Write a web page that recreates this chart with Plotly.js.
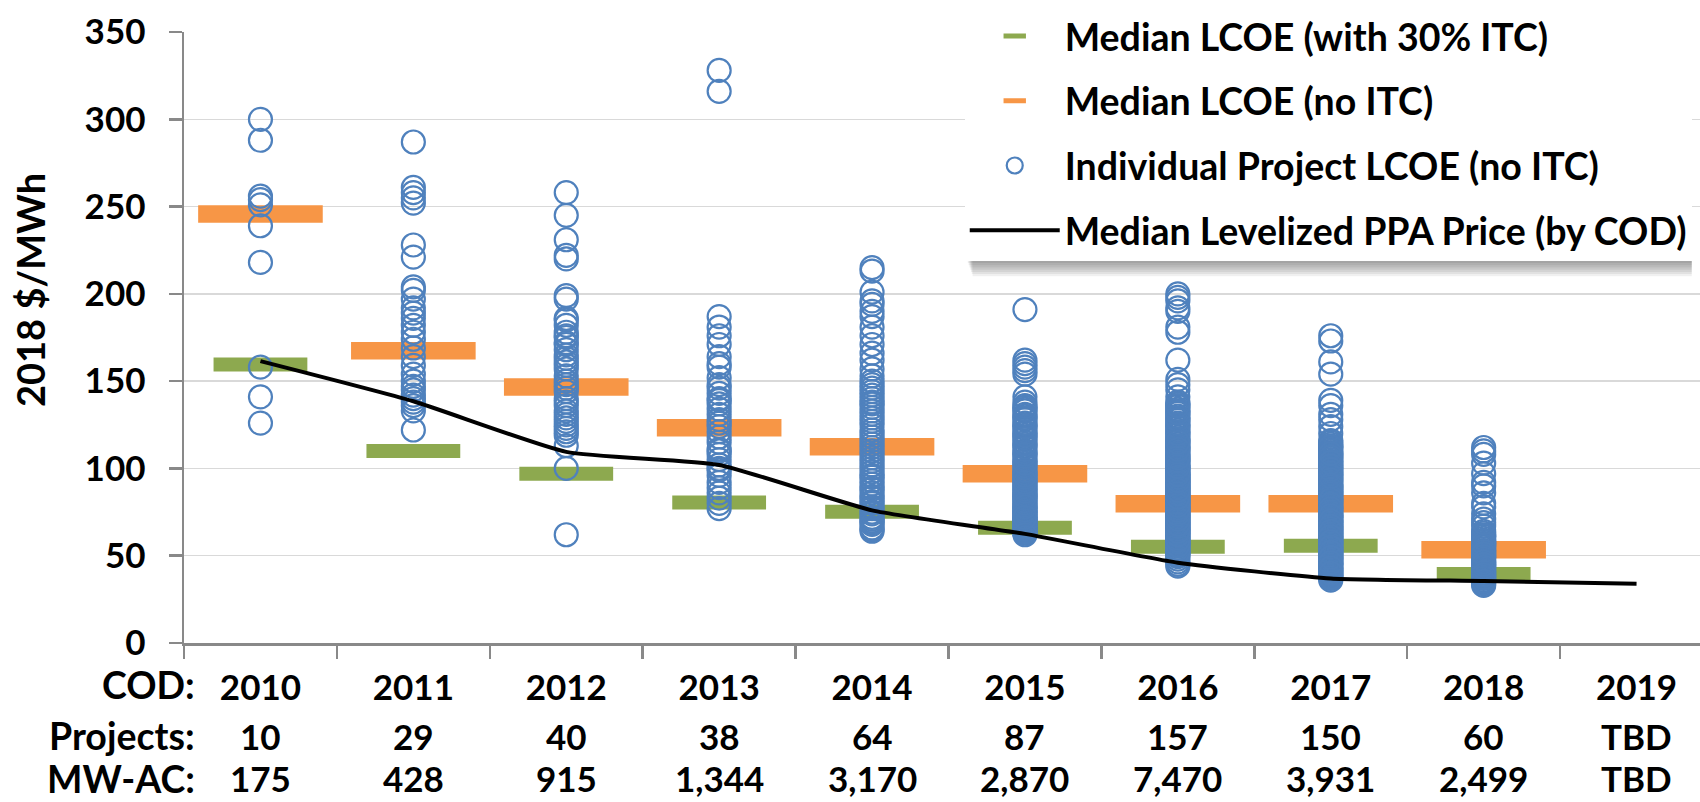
<!DOCTYPE html>
<html><head><meta charset="utf-8">
<script src="https://cdn.plot.ly/plotly-3.0.1.min.js"></script>
<style>html,body{margin:0;padding:0;background:#fff;}#chart{width:1700px;height:802px;}</style>
</head><body><div id="chart"></div>
<script>
const years = ['2010','2011','2012','2013','2014','2015','2016','2017','2018','2019'];
const projects = ['10','29','40','38','64','87','157','150','60','TBD'];
const mwac = ['175','428','915','1,344','3,170','2,870','7,470','3,931','2,499','TBD'];
const rowLabels = ['COD:','Projects:','MW-AC:'];

const medianItc   = [159.5, 110, 97, 80.5, 75.2, 66, 55.1, 55.7, 39.5];
const medianNoItc = [245.7, 167.4, 146.7, 123.3, 112.4, 96.9, 79.7, 79.7, 53.4];
const ppaPrice    = [161.5, 138.5, 109.5, 102, 76, 62.5, 46, 37, 35.5, 34];

const lcoe2010 = [300, 288, 256, 254, 251, 239, 218, 158, 141, 126];
const lcoe2011 = [287, 261, 258, 255, 252, 228, 221, 204, 202, 197, 192, 189, 186, 182, 178, 174, 169, 164, 159, 154, 150, 147, 145, 142, 140, 138, 136, 133, 122];
const lcoe2012 = [258, 245, 231, 222, 220, 199, 197, 186, 185, 182, 178, 176, 175, 172, 171, 168, 165, 163, 161, 159, 157, 153, 150, 148, 146, 144, 140, 138, 136, 133, 131, 129, 127, 125, 123, 121, 119, 113, 100, 62];
const lcoe2013 = [328, 316, 187, 181, 176, 171, 164, 160, 158, 152, 148, 146, 143, 140, 139, 137, 134, 131, 128, 126, 124, 121, 118, 115, 111, 110, 108, 105, 102, 100, 99, 96, 92, 89, 86, 83, 80, 77];
const lcoe2014 = [215, 213, 201, 196, 194, 190, 187, 181, 176, 171, 166, 162, 157, 153, 150, 148, 146, 144, 142, 140, 138, 137, 135, 133, 131, 129, 127, 125, 122, 120, 118, 116, 114, 112, 110, 108, 106, 104, 102, 100, 98, 96, 95, 93, 91, 89, 88, 86, 84, 83, 81, 80, 78, 77, 75, 74, 72, 71, 70, 69, 68, 66, 65, 64];
const lcoe2015 = [191, 162, 160, 158, 156, 154, 141, 138, 136, 135, 133, 131, 130, 128, 126, 125, 123, 121, 120, 118, 117, 115, 113, 112, 110, 109, 107, 105, 104, 102, 101, 99, 98, 97, 95, 94, 93, 91, 90, 89, 88, 87, 86, 85, 84, 83, 82, 81, 80, 79, 78, 77, 76, 75, 75, 74, 73, 72, 71, 71, 70, 69, 69, 68, 67, 67, 66, 66, 65, 65, 64, 64, 63, 63, 62, 78, 84, 92, 96, 103, 108, 114, 119, 124, 129, 134, 72];
const lcoe2016 = [200, 198, 196, 192, 190, 181, 178, 162, 151, 148, 145, 141, 138,
  137, 135.5, 134, 133, 131.5, 130, 129, 127.5, 126, 125, 123.5, 122, 121, 119.5, 118, 117, 115.5, 114, 113, 111.5,
  110, 109, 108, 106.5, 105, 104, 103, 101.5, 100, 99, 98, 97, 95.5, 94.5, 93.5, 92, 91, 90, 89, 88,
  87, 86, 85, 84, 83, 82, 81, 80, 79.5, 78.5, 77.5, 76.5, 75.5, 74.5, 73.5, 72.5, 71.5, 70.5, 69.5, 68.5,
  67.5, 66.5, 65.5, 64.5, 63.5, 62.5, 61.5, 60.5, 59.5, 58.5, 57.5, 56.5, 55.5, 54.5, 53.5, 52.5, 51.5, 50.5, 49.5, 48,
  46.5, 45, 44, 99.5, 96, 92.5, 88.5, 84.5, 81.5, 78, 75, 72, 69, 66, 63, 60, 57, 54, 51, 82.5,
  86.5, 90.5, 94, 97.5, 102, 107, 112, 116, 120, 124, 128, 132, 136, 70, 65, 58, 52, 62, 67, 73,
  77, 80.5, 85.5, 89.5, 91.5, 95, 100.5, 104.5, 56, 59, 64, 68, 71, 74, 76, 79, 83.5, 87.5, 93, 96.5,
  101, 106, 111, 115];
const lcoe2017 = [176, 173, 161, 154, 139, 136, 131, 128, 124, 120, 116,
  115, 114, 113, 112, 111, 110, 109, 108, 107, 106, 105, 104, 103, 102, 101, 100, 99, 98, 97, 96,
  95, 94, 93, 92, 91, 90, 89, 88, 87, 86, 85, 84, 83, 82, 81, 80, 79, 78, 77, 76,
  75, 74, 73, 72, 71, 70, 69, 68, 67, 66, 65, 64, 63, 62, 61, 60, 59, 58, 57, 56,
  55, 54, 53, 52, 51, 50, 49, 48, 47, 46, 45, 44, 43, 42, 41, 40, 39, 38, 37, 36,
  112.5, 106.5, 101.5, 97.5, 93.5, 89.5, 85.5, 81.5, 78.5, 74.5, 71.5, 68.5, 65.5, 62.5, 59.5, 56.5, 53.5, 50.5, 47.5, 44.5,
  41.5, 38.5, 90.5, 86.5, 83.5, 79.5, 76.5, 72.5, 69.5, 66.5, 63.5, 60.5, 57.5, 54.5, 51.5, 48.5, 45.5, 42.5, 39.5, 37.5,
  88, 82, 77, 73, 70, 67, 64, 61, 58, 55, 52, 49, 46, 43, 40, 95.5, 99.5, 103.5, 108.5];
const lcoe2018 = [112, 110, 108, 103, 97, 92, 90, 86, 80, 78, 74, 71, 67, 64,
  63, 62, 61, 60, 59, 58, 57, 56, 55, 54, 53, 52, 51, 50, 49, 48, 47, 46, 45, 44,
  43, 42, 41, 40, 39, 38, 37, 36, 35, 34, 33, 61.5, 58.5, 55.5, 52.5, 49.5, 46.5, 43.5, 40.5, 37.5,
  35.5, 57, 51, 45, 39, 69];

const lcoeByYear = [lcoe2010, lcoe2011, lcoe2012, lcoe2013, lcoe2014, lcoe2015, lcoe2016, lcoe2017, lcoe2018];
const ptsX = [], ptsY = [];
lcoeByYear.forEach((arr, i) => arr.forEach(v => { ptsX.push(years[i]); ptsY.push(v); }));

const FONT = 'Lato, "Open Sans", sans-serif';
const GREEN = '#8DA94F', ORANGE = '#F79646', BLUE = '#4F81BD', AXIS = '#898989';
const NUM = 35, TXT = 37.5;
const numFont = {family: FONT, size: NUM, weight: 700, color: '#000'};
const txtFont = {family: FONT, size: TXT, weight: 700, color: '#000'};

const traces = [
  {x: years.slice(0, 9), y: medianItc, type: 'scatter', mode: 'markers', name: 'Median LCOE (with 30% ITC)', legendgroup: 'a',
   marker: {symbol: 'line-ew', size: 67, color: GREEN, line: {width: 14, color: GREEN}}, hoverinfo: 'skip'},
  {x: years.slice(0, 9), y: medianNoItc, type: 'scatter', mode: 'markers', name: 'Median LCOE (no ITC)', legendgroup: 'b',
   marker: {symbol: 'line-ew', size: 89, color: ORANGE, line: {width: 17.5, color: ORANGE}}, hoverinfo: 'skip'},
  {x: ptsX, y: ptsY, type: 'scatter', mode: 'markers', name: 'Individual Project LCOE (no ITC)', legendgroup: 'c',
   marker: {symbol: 'circle-open', size: 23, color: BLUE, line: {width: 2.2, color: BLUE}}, hoverinfo: 'skip'},
  {x: years, y: ppaPrice, type: 'scatter', mode: 'lines', name: 'Median Levelized PPA Price (by COD)', legendgroup: 'd',
   line: {color: '#000', width: 4, shape: 'spline', smoothing: 0.5}, hoverinfo: 'skip'}
];

const annotations = [];
const rowY = [-0.0687, -0.1522, -0.2215];
rowLabels.forEach((t, r) => annotations.push({xref: 'paper', yref: 'paper', x: 0.0086, y: rowY[r], xanchor: 'right', yanchor: 'middle',
  text: t, showarrow: false, font: txtFont}));
years.forEach((yr, i) => {
  annotations.push({xref: 'x', yref: 'paper', x: i, y: rowY[1], xanchor: 'center', yanchor: 'middle', text: projects[i], showarrow: false, font: numFont});
  annotations.push({xref: 'x', yref: 'paper', x: i, y: rowY[2], xanchor: 'center', yanchor: 'middle', text: mwac[i], showarrow: false, font: numFont});
});
annotations.push({xref: 'paper', yref: 'paper', x: -0.1016, y: 0.5777, xanchor: 'center', yanchor: 'middle', textangle: -90,
  text: '2018 $/MWh', showarrow: false, font: {family: FONT, size: 38, weight: 700, color: '#000'}});

const layout = {
  width: 1700, height: 802,
  margin: {l: 184, r: 0, t: 32, b: 159, pad: 0},
  paper_bgcolor: '#fff', plot_bgcolor: '#fff',
  showlegend: true,
  font: {family: FONT, size: NUM, color: '#000'},
  xaxis: {type: 'category', categoryorder: 'array', categoryarray: years, range: [-0.5, 9.415],
    tickson: 'boundaries', ticks: 'outside', ticklen: 13, tickwidth: 2.5, tickcolor: AXIS,
    showline: true, linecolor: AXIS, linewidth: 2.5, showgrid: false, zeroline: false,
    tickfont: numFont, ticklabelstandoff: 12, fixedrange: true},
  yaxis: {range: [0, 350], tick0: 0, dtick: 50, ticks: 'outside', ticklen: 13, tickwidth: 2.5, tickcolor: AXIS,
    showline: true, linecolor: AXIS, linewidth: 2.5, showgrid: true, gridcolor: '#D9D9D9', gridwidth: 1.5, zeroline: false,
    tickfont: numFont, ticklabelstandoff: 16, fixedrange: true},
  legend: {x: 0.515, xanchor: 'left', y: 1.044, yanchor: 'top', bgcolor: '#fff', borderwidth: 0,
    itemwidth: 90, tracegroupgap: 13, traceorder: 'grouped',
    font: txtFont},
  annotations: annotations
};

Plotly.newPlot('chart', traces, layout, {displayModeBar: false, staticPlot: true}).then(gd => {
  const bg = gd.querySelector('.legend .bg');
  if (!bg) return;
  const fl = gd._fullLayout;
  const r = bg.getBoundingClientRect();
  const c = gd.getBoundingClientRect();
  const L = r.left - c.left, R = r.right - c.left, T = r.top - c.top, B = r.bottom - c.top;
  const toX = px => (px - fl.margin.l) / fl._size.w;
  const toY = py => (fl._size.t + fl._size.h - py) / fl._size.h;
  const shapes = [];
  for (let i = 0; i < 7; i++) {
    shapes.push({type: 'rect', xref: 'paper', yref: 'paper', layer: 'above',
      x0: toX(L + 3 + i * 0.8), x1: toX(R), y0: toY(B + 2 + i * 2.2), y1: toY(T + 10),
      fillcolor: 'rgba(0,0,0,0.06)', line: {width: 0}});
  }
  Plotly.relayout(gd, {shapes: shapes});
});
</script>
</body></html>
